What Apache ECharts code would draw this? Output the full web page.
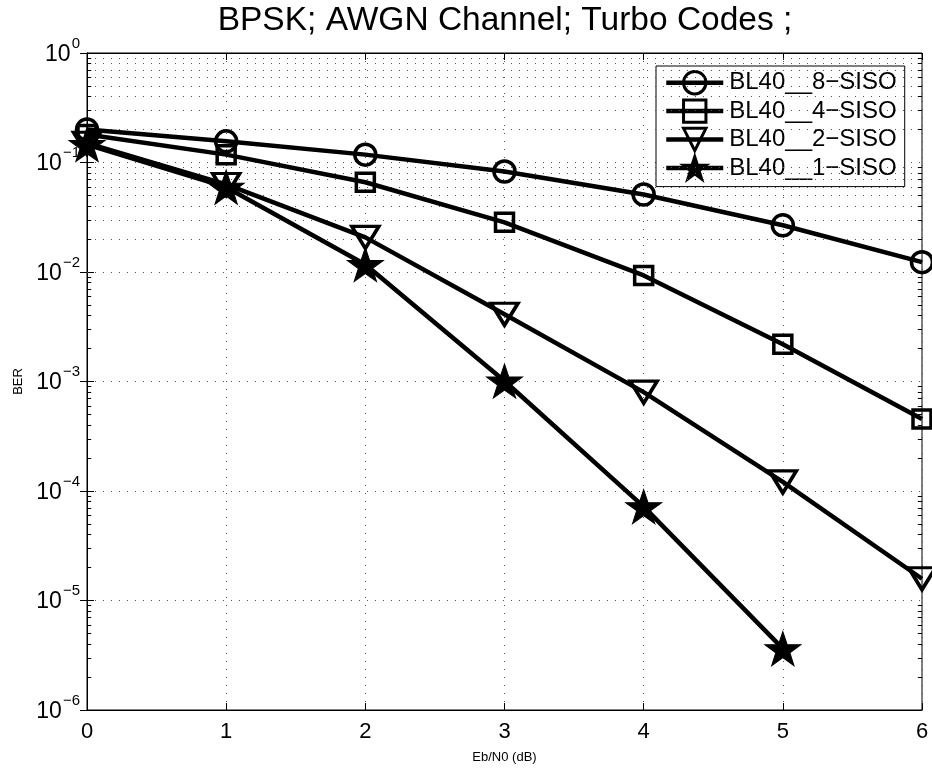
<!DOCTYPE html>
<html>
<head>
<meta charset="utf-8">
<title>BPSK; AWGN Channel; Turbo Codes</title>
<script src="https://cdn.jsdelivr.net/npm/echarts@6/dist/echarts.min.js"></script>
<style>
  html, body { margin: 0; padding: 0; background: #fff; }
  #chart { width: 932px; height: 769px; }
</style>
</head>
<body>
<div id="chart"></div>
<script>
// Eb/N0 (dB) 横轴
const ebN0 = [0, 1, 2, 3, 4, 5, 6];
// BER values
const ber8Siso = [0.200, 0.156, 0.118, 0.0828, 0.0510, 0.0267, 0.0123];
const ber4Siso = [0.180, 0.118, 0.0660, 0.0284, 0.00930, 0.00219, 0.000454];
const ber2Siso = [0.150, 0.0630, 0.0207, 0.00411, 0.000800, 0.000121, 0.0000158];
const ber1Siso = [0.146, 0.0595, 0.0117, 0.00101, 0.0000720, 0.00000363];

const seriesNames = ['BL40__8\u2212SISO', 'BL40__4\u2212SISO', 'BL40__2\u2212SISO', 'BL40__1\u2212SISO'];
// y axis decades and the minor steps inside each decade
const berDecades = [1e-6, 1e-5, 1e-4, 1e-3, 1e-2, 1e-1];
const minorSteps = [2, 3, 4, 5, 6, 7, 8, 9];

const FONT = 'Liberation Sans, Arial, Helvetica, sans-serif';
const starPath = 'path://M50,0 L61.8,35.1 L98.9,35.1 L69,56.7 L80.3,91.5 L50,70 L19.7,91.5 L31,56.7 L1.1,35.1 L38.2,35.1 Z';

const toPairs = (ys) => ys.map((y, i) => [ebN0[i], y]);

const minorValues = [];
berDecades.forEach((d) => minorSteps.forEach((s) => minorValues.push(d * s)));

const dotted = { color: '#555', width: 1, type: [1, 7] };

const chart = echarts.init(document.getElementById('chart'));

const dataLine = { color: '#000', width: 4.5 };

chart.setOption({
  animation: false,
  backgroundColor: '#fff',
  title: {
    text: 'BPSK; AWGN Channel; Turbo Codes ;',
    left: 505,
    top: 4,
    textAlign: 'center',
    padding: 0,
    textStyle: { fontFamily: FONT, fontSize: 33.5, fontWeight: 'normal', color: '#000' }
  },
  legend: {
    data: seriesNames,
    orient: 'vertical',
    left: 656,
    top: 66,
    padding: [4, 8, 6, 8],
    itemWidth: 57,
    itemHeight: 28,
    itemGap: 3,
    borderColor: '#000',
    borderWidth: 1,
    backgroundColor: '#fff',
    selectedMode: false,
    iconRotate: 'inherit',
    lineStyle: { width: 4.5 },
    itemStyle: { borderWidth: 3 },
    textStyle: { fontFamily: FONT, fontSize: 24, color: '#000', padding: [0, 0, 0, 1] }
  },
  grid: {
    left: 87,
    right: 10,
    top: 53,
    bottom: 58,
    show: true,
    borderColor: '#000',
    borderWidth: 1,
    backgroundColor: 'transparent'
  },
  xAxis: [
    {
      type: 'value',
      min: 0,
      max: 6,
      interval: 1,
      name: 'Eb/N0 (dB)',
      nameLocation: 'middle',
      nameGap: 41,
      nameTextStyle: { fontFamily: FONT, fontSize: 13, color: '#000' },
      axisLine: { show: true, lineStyle: { color: '#000', width: 1 } },
      axisTick: { inside: true, length: 7, lineStyle: { color: '#000' } },
      axisLabel: { margin: 11, fontFamily: FONT, fontSize: 22, color: '#000' },
      splitLine: { show: true, lineStyle: dotted }
    },
    {
      type: 'value',
      position: 'top',
      min: 0,
      max: 6,
      interval: 1,
      axisLine: { show: true, lineStyle: { color: '#000', width: 1 } },
      axisTick: { inside: true, length: 7, lineStyle: { color: '#000' } },
      axisLabel: { show: false },
      splitLine: { show: false }
    }
  ],
  yAxis: [
    {
      type: 'log',
      logBase: 10,
      min: 1e-6,
      max: 1,
      name: 'BER',
      nameLocation: 'middle',
      nameGap: 62,
      nameTextStyle: { fontFamily: FONT, fontSize: 13, color: '#000' },
      axisLine: { show: true, lineStyle: { color: '#000', width: 1 } },
      axisTick: { inside: true, length: 7, lineStyle: { color: '#000' } },
      axisLabel: {
        margin: 7,
        formatter: (v) => {
          const e = Math.round(Math.log10(v));
          const ex = e < 0 ? '\u2212' + (-e) : String(e);
          return '{b|10}{s|' + ex + '}';
        },
        rich: {
          b: { fontFamily: FONT, fontSize: 23, color: '#000', verticalAlign: 'bottom', lineHeight: 26, padding: [0, 0, 0, 0] },
          s: { fontFamily: FONT, fontSize: 15, color: '#000', verticalAlign: 'bottom', lineHeight: 26, padding: [0, 0, 15, 1] }
        }
      },
      splitLine: { show: true, lineStyle: dotted }
    },
    {
      type: 'log',
      logBase: 10,
      position: 'right',
      min: 1e-6,
      max: 1,
      axisLine: { show: true, lineStyle: { color: '#000', width: 1 } },
      axisTick: { inside: true, length: 7, lineStyle: { color: '#000' } },
      axisLabel: { show: false },
      splitLine: { show: false }
    }
  ],
  series: [
    {
      // minor grid lines and minor ticks on the y axis (2..9 in each decade)
      name: 'minorGrid',
      type: 'line',
      data: [],
      silent: true,
      markLine: {
        silent: true,
        animation: false,
        symbol: ['none', 'none'],
        label: { show: false },
        emphasis: { disabled: true },
        lineStyle: dotted,
        data: minorValues.map((v) => ({ yAxis: v }))
          .concat(minorValues.map((v) => [
            { coord: [0, v], lineStyle: { color: '#000', width: 1, type: 'solid' } },
            { coord: [0.03, v] }
          ]))
          .concat(minorValues.map((v) => [
            { coord: [5.97, v], lineStyle: { color: '#000', width: 1, type: 'solid' } },
            { coord: [6, v] }
          ]))
      }
    },
    {
      name: seriesNames[0],
      type: 'line',
      data: toPairs(ber8Siso),
      symbol: 'circle',
      symbolSize: 21,
      lineStyle: dataLine,
      itemStyle: { color: 'rgba(0,0,0,0)', borderColor: '#000', borderWidth: 3.5 },
      z: 5
    },
    {
      name: seriesNames[1],
      type: 'line',
      data: toPairs(ber4Siso),
      symbol: 'rect',
      symbolSize: 18,
      lineStyle: dataLine,
      itemStyle: { color: 'rgba(0,0,0,0)', borderColor: '#000', borderWidth: 3.5 },
      z: 5
    },
    {
      name: seriesNames[2],
      type: 'line',
      data: toPairs(ber2Siso),
      symbol: 'triangle',
      symbolRotate: 180,
      symbolSize: [27, 22],
      lineStyle: dataLine,
      itemStyle: { color: 'rgba(0,0,0,0)', borderColor: '#000', borderWidth: 3.5 },
      z: 5
    },
    {
      name: seriesNames[3],
      type: 'line',
      data: toPairs(ber1Siso),
      symbol: starPath,
      symbolSize: [36, 34],
      lineStyle: dataLine,
      itemStyle: { color: '#000', borderColor: '#000', borderWidth: 1 },
      z: 5
    }
  ]
});
</script>
</body>
</html>
